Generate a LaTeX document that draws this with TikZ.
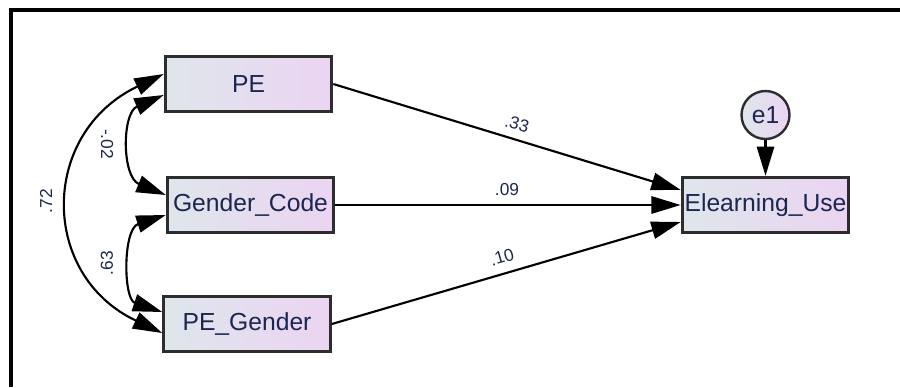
\documentclass[tikz,border=0pt]{standalone}
\usepackage{fontspec}
\setmainfont{Liberation Sans}
\usetikzlibrary{arrows.meta,calc}
\definecolor{txt}{RGB}{28,38,80}
\definecolor{boxleft}{RGB}{223,230,235}
\definecolor{boxright}{RGB}{235,212,242}
\definecolor{boxline}{RGB}{45,45,45}
\begin{document}
\begin{tikzpicture}[x=0.75pt,y=-0.75pt,
  var/.style={draw=boxline,line width=2.2pt,left color=boxleft,right color=boxright,
    minimum width=125pt,minimum height=41.5pt,inner sep=0pt,
    font=\fontsize{18.5}{20}\selectfont,text=txt},
  err/.style={circle,draw=boxline,line width=1.8pt,left color=boxleft,right color=boxright,
    minimum size=36pt,inner sep=0pt,font=\fontsize{18.5}{20}\selectfont,text=txt},
  tip/.tip={Triangle[length=22pt,width=13pt]},
  regpath/.style={line width=1.6pt,-tip},
  cov/.style={line width=1.6pt,tip-tip},
  coef/.style={font=\fontsize{13}{14}\selectfont,text=txt,inner sep=0pt}
]
\useasboundingbox (0,0) rectangle (900,387);

% frame lines along the top and left edges
\draw[line width=3pt,line join=miter] (11,387) -- (11,10) -- (900,10);

% observed variables
\node[var] (pe) at (248.5,84) {PE};
\node[var] (gc) at (250.5,205) {Gender\_Code};
\node[var] (pg) at (247,324) {PE\_Gender};
\node[var] (eu) at (765.5,205) {Elearning\_Use};
\node[err] (e1) at (765.5,115) {e1};

% regression paths
\draw[regpath] (pe.east) -- ($(eu.west)+(0,-15)$);
\draw[regpath] (gc.east) -- (eu.west);
\draw[regpath] (pg.east) -- ($(eu.west)+(0,17)$);
\draw[regpath] (e1) -- (eu);

% covariances
\draw[cov] ($(pe.west)+(0,11)$) .. controls +(-42,18) and +(-44,-18) .. ($(gc.west)+(0,-10)$);
\draw[cov] ($(gc.west)+(0,10)$) .. controls +(-43,14) and +(-39,-13) .. ($(pg.west)+(0,-12)$);
\draw[cov] ($(pe.west)+(0,-10)$) .. controls +(-124,59) and +(-123,-58) .. ($(pg.west)+(0,9)$);

% coefficients
\node[coef,rotate=-15] (c1) at (517,124) {.33};
\node[coef] (c2) at (507,190) {.09};
\node[coef,rotate=16] (c3) at (502,257) {.10};
\node[coef,rotate=-90] (c4) at (107,144) {-.02};
\node[coef,rotate=90] (c5) at (107,263) {.63};
\node[coef,rotate=90] (c6) at (46,201) {.72};
\end{tikzpicture}
\end{document}
